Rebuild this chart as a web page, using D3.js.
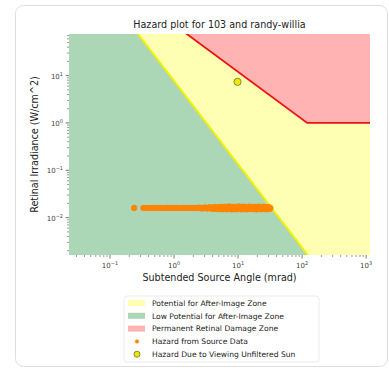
<!DOCTYPE html>
<html>
<head>
<meta charset="utf-8">
<script src="https://cdn.jsdelivr.net/npm/d3@7"></script>
<style>
  body { margin: 0; background: #fff; }
  svg text { font-family: "DejaVu Sans", sans-serif; }
</style>
</head>
<body>
<div id="chart"></div>
<script>
// boundary lines (mrad, W/cm^2)
const yellowLine = [[0.274, 75.9], [123, 0.00162]];
const redLine = [[1.2, 100], [120, 1], [2000, 1]];

// hazard from source data
const srcX = [0.237, 0.24, 0.33, 0.345, 0.36, 0.38, 0.40, 0.42, 0.44, 0.46, 0.48, 0.505, 0.53, 0.555, 0.58, 0.61,
  0.64, 0.67, 0.70, 0.735, 0.77, 0.81, 0.85, 0.89, 0.93, 0.975, 1.02, 1.07, 1.12, 1.17, 1.23, 1.29,
  1.35, 1.41, 1.48, 1.55, 1.62, 1.70, 1.78, 1.86, 1.95, 2.04, 2.14, 2.24, 2.35, 2.46, 2.58, 2.70,
  2.83, 2.96, 3.10, 3.25, 3.40, 3.55, 3.7, 3.85, 4.0, 4.2, 4.4, 4.6, 4.8, 5.0, 5.2, 5.45,
  5.7, 5.95, 6.2, 6.5, 6.8, 7.1, 7.4, 7.75, 8.1, 8.45, 8.8, 9.2, 9.6, 10.0, 10.5, 11.0,
  11.5, 12.0, 12.5, 13.1, 13.7, 14.3, 15.0, 15.7, 16.4, 17.1, 17.9, 18.7, 19.5, 20.4, 21.3, 22.3,
  23.3, 24.3, 25.4, 26.5, 27.7, 28.9, 30.2, 31.3, 32.2];
const srcY = [0.0158, 0.0163, 0.0160, 0.0161, 0.0160, 0.0159, 0.0159, 0.0161, 0.0161, 0.0160, 0.0160, 0.0158, 0.0159, 0.0162, 0.0161, 0.0159,
  0.0160, 0.0161, 0.0158, 0.0160, 0.0162, 0.0159, 0.0160, 0.0161, 0.0159, 0.0158, 0.0161, 0.0162, 0.0160, 0.0158, 0.0158, 0.0161,
  0.0162, 0.0158, 0.0159, 0.0162, 0.0161, 0.0158, 0.0160, 0.0163, 0.0158, 0.0157, 0.0163, 0.0161, 0.0157, 0.0164, 0.0163, 0.0156,
  0.0156, 0.0165, 0.0164, 0.0155, 0.0155, 0.0166, 0.0166, 0.0153, 0.0152, 0.0168, 0.0168, 0.0151, 0.0150, 0.0169, 0.0170, 0.0150,
  0.0149, 0.0171, 0.0171, 0.0149, 0.0150, 0.0172, 0.0172, 0.0149, 0.0148, 0.0171, 0.0170, 0.0149, 0.0150, 0.0172, 0.0173, 0.0150,
  0.0148, 0.0172, 0.0171, 0.0150, 0.0149, 0.0170, 0.0172, 0.0151, 0.0150, 0.0171, 0.0170, 0.0149, 0.0148, 0.0171, 0.0172, 0.0150,
  0.0150, 0.0170, 0.0171, 0.0150, 0.0149, 0.0169, 0.0168, 0.0152, 0.0160];

// hazard from viewing the sun
const sunX = [9.8];
const sunY = [7.4];

const xTicks = [0.1, 1, 10, 100, 1000];
const yTicks = [0.01, 0.1, 1, 10];

const legendLabels = ["Potential for After-Image Zone", "Low Potential for After-Image Zone",
  "Permanent Retinal Damage Zone", "Hazard from Source Data", "Hazard Due to Viewing Unfiltered Sun"];

const W = 389, H = 373;
const plot = { left: 69, right: 370, top: 34, bottom: 255 };
const colors = { yellow: "#ffffb3", green: "#acd7b6", red: "#ffb3b3" };

const svg = d3.select("#chart").append("svg").attr("width", W).attr("height", H);

// card frame
svg.append("rect").attr("x", 15.5).attr("y", 5.5).attr("width", 372).attr("height", 361)
  .attr("rx", 8).attr("fill", "#fff").attr("stroke", "#dedede");

const x = d3.scaleLog().domain([Math.pow(10, -1.64), Math.pow(10, 3.06)]).range([plot.left, plot.right]);
const y = d3.scaleLog().domain([Math.pow(10, -2.79), Math.pow(10, 1.88)]).range([plot.bottom, plot.top]);

svg.append("clipPath").attr("id", "clip").append("rect")
  .attr("x", plot.left).attr("y", plot.top)
  .attr("width", plot.right - plot.left).attr("height", plot.bottom - plot.top);

const g = svg.append("g").attr("clip-path", "url(#clip)");
const [x0, x1] = x.domain(), [y0, y1] = y.domain();
const line = d3.line().x(d => x(d[0])).y(d => y(d[1]));

// yellow background (everything under the red line)
g.append("rect").attr("x", plot.left).attr("y", plot.top)
  .attr("width", plot.right - plot.left).attr("height", plot.bottom - plot.top)
  .attr("fill", colors.yellow);

// green zone: left of the yellow line
g.append("path")
  .attr("d", line([[x0 / 10, y1 * 10], ...yellowLine, [x0 / 10, y0 / 10]]))
  .attr("fill", colors.green);

// red zone: above the red line
g.append("path")
  .attr("d", line([...redLine, [redLine[2][0], y1 * 10], [redLine[0][0], y1 * 10]]))
  .attr("fill", colors.red);

g.append("path").attr("d", line(yellowLine)).attr("fill", "none")
  .attr("stroke", "#f2f200").attr("stroke-width", 2);
g.append("path").attr("d", line(redLine)).attr("fill", "none")
  .attr("stroke", "#ee1111").attr("stroke-width", 1.8);

// source data points
g.selectAll(".src").data(srcX.map((v, i) => [v, srcY[i]])).enter().append("circle")
  .attr("class", "src")
  .attr("cx", d => x(d[0])).attr("cy", d => y(d[1])).attr("r", 2.9)
  .attr("fill", "#ff8400");

g.selectAll(".sun").data(sunX.map((v, i) => [v, sunY[i]])).enter().append("circle")
  .attr("class", "sun")
  .attr("cx", d => x(d[0])).attr("cy", d => y(d[1])).attr("r", 3.6)
  .attr("fill", "#eaea00").attr("stroke", "#8c8c28").attr("stroke-width", 1);

// axes
function minorTicks(scale) {
  const [a, b] = scale.domain();
  const out = [];
  for (let e = Math.floor(Math.log10(a)); e <= Math.ceil(Math.log10(b)); e++) {
    for (let m = 2; m < 10; m++) {
      const v = m * Math.pow(10, e);
      if (v >= a && v <= b) out.push(v);
    }
  }
  return out;
}
const tickColor = "#555";

function expLabel(sel, v) {
  const e = Math.round(Math.log10(v));
  sel.append("tspan").text("10");
  sel.append("tspan").attr("dy", -3).attr("font-size", 5).text(e < 0 ? "\u2212" + (-e) : e);
}

const xa = svg.append("g");
minorTicks(x).forEach(v => {
  xa.append("line").attr("x1", x(v)).attr("x2", x(v)).attr("y1", plot.bottom).attr("y2", plot.bottom + 2)
    .attr("stroke", tickColor).attr("stroke-width", 0.6);
});
xTicks.forEach(v => {
  xa.append("line").attr("x1", x(v)).attr("x2", x(v)).attr("y1", plot.bottom).attr("y2", plot.bottom + 3.5)
    .attr("stroke", tickColor).attr("stroke-width", 0.8);
  const t = xa.append("text").attr("x", x(v)).attr("y", plot.bottom + 13)
    .attr("text-anchor", "middle").attr("font-size", 7).attr("fill", "#444");
  expLabel(t, v);
});

const ya = svg.append("g");
minorTicks(y).forEach(v => {
  ya.append("line").attr("x1", plot.left - 2).attr("x2", plot.left).attr("y1", y(v)).attr("y2", y(v))
    .attr("stroke", tickColor).attr("stroke-width", 0.6);
});
yTicks.forEach(v => {
  ya.append("line").attr("x1", plot.left - 3.5).attr("x2", plot.left).attr("y1", y(v)).attr("y2", y(v))
    .attr("stroke", tickColor).attr("stroke-width", 0.8);
  const t = ya.append("text").attr("x", plot.left - 6).attr("y", y(v) + 3)
    .attr("text-anchor", "end").attr("font-size", 7).attr("fill", "#444");
  expLabel(t, v);
});

// titles
svg.append("text").attr("x", (plot.left + plot.right) / 2).attr("y", 28)
  .attr("text-anchor", "middle").attr("font-size", 9.6).attr("fill", "#222")
  .text("Hazard plot for 103 and randy-willia");
svg.append("text").attr("x", (plot.left + plot.right) / 2).attr("y", 281)
  .attr("text-anchor", "middle").attr("font-size", 9.6).attr("fill", "#222")
  .text("Subtended Source Angle (mrad)");
svg.append("text")
  .attr("transform", `translate(38,${(plot.top + plot.bottom) / 2}) rotate(-90)`)
  .attr("text-anchor", "middle").attr("font-size", 9.6).attr("fill", "#222")
  .text("Retinal Irradiance (W/cm^2)");

// legend
const lg = svg.append("g").attr("transform", "translate(124,296)");
lg.append("rect").attr("width", 195).attr("height", 66).attr("rx", 3)
  .attr("fill", "#fff").attr("stroke", "#ececec");
const rowY = i => 7 + i * 12.8;
[colors.yellow, colors.green, colors.red].forEach((c, i) => {
  lg.append("rect").attr("x", 4).attr("y", rowY(i) - 3).attr("width", 17).attr("height", 6)
    .attr("fill", c);
});
lg.append("circle").attr("cx", 13).attr("cy", rowY(3)).attr("r", 2).attr("fill", "#ff8400");
lg.append("circle").attr("cx", 13).attr("cy", rowY(4)).attr("r", 3)
  .attr("fill", "#eaea00").attr("stroke", "#8c8c28").attr("stroke-width", 1);
legendLabels.forEach((s, i) => {
  lg.append("text").attr("x", 28).attr("y", rowY(i) + 2.8).attr("font-size", 7.6)
    .attr("fill", "#222").text(s);
});
</script>
</body>
</html>
